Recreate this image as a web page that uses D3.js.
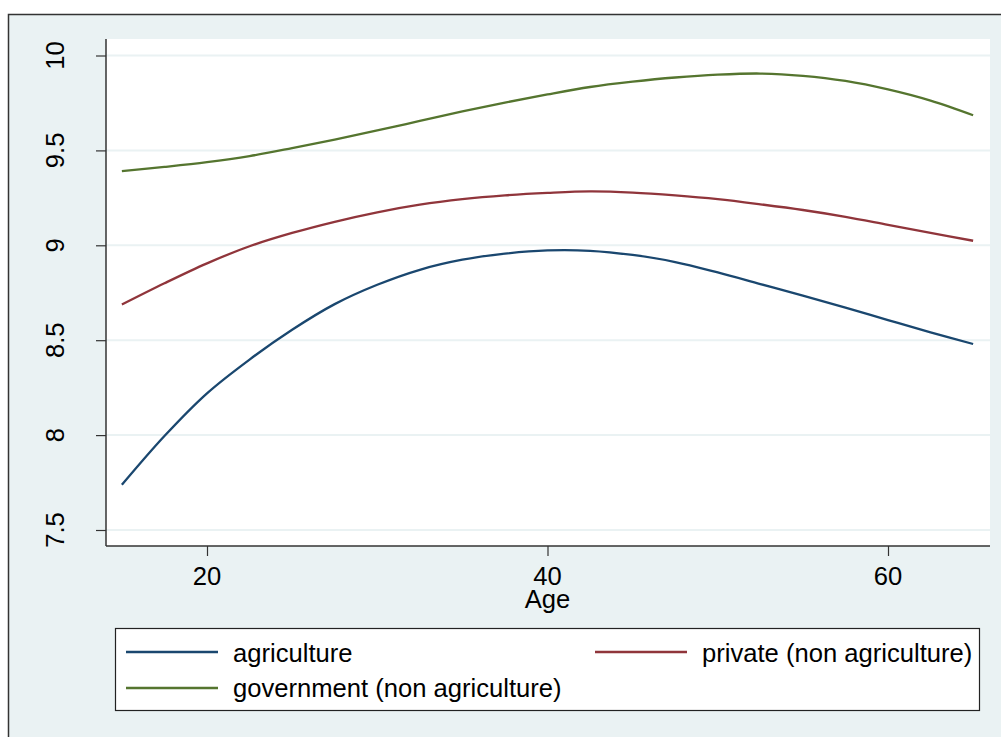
<!DOCTYPE html>
<html>
<head>
<meta charset="utf-8">
<script src="https://cdn.jsdelivr.net/npm/d3@7"></script>
<style>
  html, body { margin: 0; padding: 0; background: #ffffff; }
  svg { display: block; }
  text { font-family: "Liberation Sans", Arial, Helvetica, sans-serif; fill: #000; }
</style>
</head>
<body>
<svg id="chart" width="1001" height="737"></svg>
<script>
const ages = [15, 17.5, 20, 22.5, 25, 27.5, 30, 32.5, 35, 37.5, 40, 42.5, 45, 47.5, 50, 52.5, 55, 57.5, 60, 62.5, 65];
const agriculture = [7.738, 7.995, 8.22, 8.398, 8.555, 8.69, 8.792, 8.871, 8.924, 8.956, 8.973, 8.971, 8.949, 8.912, 8.857, 8.796, 8.735, 8.672, 8.606, 8.541, 8.480];
const privateNonAg = [8.688, 8.80, 8.905, 8.995, 9.065, 9.124, 9.174, 9.214, 9.243, 9.263, 9.276, 9.284, 9.278, 9.263, 9.243, 9.216, 9.186, 9.150, 9.108, 9.066, 9.024];
const government = [9.391, 9.413, 9.438, 9.470, 9.512, 9.557, 9.605, 9.655, 9.705, 9.752, 9.795, 9.834, 9.862, 9.884, 9.899, 9.905, 9.893, 9.866, 9.821, 9.762, 9.685];
const seriesNames = ["agriculture", "private (non agriculture)", "government (non agriculture)"];
const seriesColors = ["#1a476f", "#90353b", "#55752f"];
const yTicks = [7.5, 8, 8.5, 9, 9.5, 10];
const yTickLabels = ["7.5", "8", "8.5", "9", "9.5", "10"];
const xTicks = [20, 40, 60];
const xTitle = "Age";

const svg = d3.select("#chart");
const W = 1001, H = 737;
const plot = {left: 106, right: 990, top: 39, bottom: 546};
const fs = 25.6;

// outer graph region
svg.append("rect").attr("x", 0).attr("y", 0).attr("width", W).attr("height", H).attr("fill", "#ffffff");
svg.append("rect").attr("x", 8.5).attr("y", 14.5).attr("width", W + 20).attr("height", H + 20)
  .attr("fill", "#eaf2f3").attr("stroke", "#333").attr("stroke-width", 1.5);

// plot region
svg.append("rect").attr("x", plot.left).attr("y", plot.top)
  .attr("width", plot.right - plot.left).attr("height", plot.bottom - plot.top).attr("fill", "#ffffff");

const x = d3.scaleLinear().domain([20, 60]).range([207, 888]);
const y = d3.scaleLinear().domain([7.5, 10]).range([530, 55.5]);

// grid lines
svg.append("g").selectAll("line").data(yTicks).join("line")
  .attr("x1", plot.left).attr("x2", plot.right)
  .attr("y1", d => y(d)).attr("y2", d => y(d))
  .attr("stroke", "#eaf2f3").attr("stroke-width", 2);

// y axis
const yAxis = d3.axisLeft(y).tickValues(yTicks).tickSize(10).tickPadding(0).tickFormat(() => "");
const gy = svg.append("g").attr("transform", `translate(${plot.left},0)`).call(yAxis);
gy.select(".domain").remove();
gy.selectAll(".tick line").attr("stroke", "#333").attr("stroke-width", 1.2);
svg.append("line").attr("x1", plot.left).attr("x2", plot.left).attr("y1", plot.top).attr("y2", plot.bottom)
  .attr("stroke", "#333").attr("stroke-width", 1.5);
svg.append("g").selectAll("text").data(yTicks).join("text")
  .attr("transform", (d) => `translate(64,${y(d)}) rotate(-90)`)
  .attr("text-anchor", "middle")
  .attr("font-size", fs)
  .text((d, i) => yTickLabels[i]);

// x axis
const xAxis = d3.axisBottom(x).tickValues(xTicks).tickSize(10).tickPadding(0).tickFormat(() => "");
const gx = svg.append("g").attr("transform", `translate(0,${plot.bottom})`).call(xAxis);
gx.select(".domain").remove();
gx.selectAll(".tick line").attr("stroke", "#333").attr("stroke-width", 1.2);
svg.append("line").attr("x1", plot.left).attr("x2", plot.right).attr("y1", plot.bottom).attr("y2", plot.bottom)
  .attr("stroke", "#333").attr("stroke-width", 1.5);
svg.append("g").selectAll("text").data(xTicks).join("text")
  .attr("x", d => x(d)).attr("y", 585)
  .attr("text-anchor", "middle").attr("font-size", fs)
  .text(d => d3.format("d")(d));
svg.append("text").attr("x", x(40)).attr("y", 608).attr("text-anchor", "middle")
  .attr("font-size", fs).text(xTitle);

// lines
const allSeries = [agriculture, privateNonAg, government];
const line = d3.line().x((d, i) => x(ages[i])).y(d => y(d)).curve(d3.curveCatmullRom.alpha(0.5));
svg.append("g").selectAll("path").data(allSeries).join("path")
  .attr("d", d => line(d))
  .attr("fill", "none")
  .attr("stroke", (d, i) => seriesColors[i])
  .attr("stroke-width", 2.3);

// legend
const lg = svg.append("g");
lg.append("rect").attr("x", 115.5).attr("y", 628.5).attr("width", 864).attr("height", 82)
  .attr("fill", "#ffffff").attr("stroke", "#222").attr("stroke-width", 1.2);
const legendItems = [
  {i: 0, lx: 126, tx: 233, ly: 652, ty: 662},
  {i: 1, lx: 595, tx: 702, ly: 652, ty: 662},
  {i: 2, lx: 126, tx: 233, ly: 688, ty: 697}
];
legendItems.forEach(it => {
  lg.append("line").attr("x1", it.lx).attr("x2", it.lx + 92).attr("y1", it.ly).attr("y2", it.ly)
    .attr("stroke", seriesColors[it.i]).attr("stroke-width", 2.3);
  lg.append("text").attr("x", it.tx).attr("y", it.ty).attr("font-size", fs).text(seriesNames[it.i]);
});
</script>
</body>
</html>
